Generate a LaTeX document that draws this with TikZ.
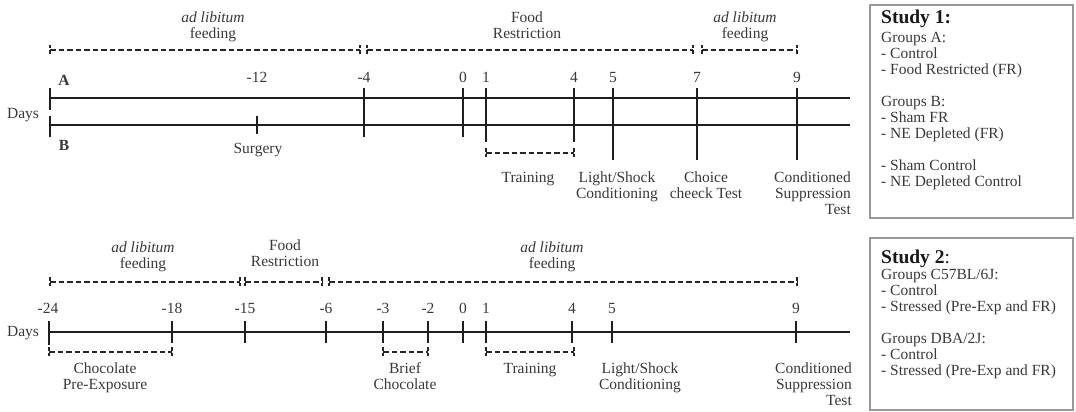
\documentclass[tikz,border=0pt]{standalone}
\usepackage{fontspec}
\setmainfont{Liberation Serif}
\newcommand\labfont{\fontsize{15.5}{16}\selectfont}
\newcommand\headfont{\fontsize{19.5}{20}\selectfont\bfseries}
% dashed feeding/period span with broken end marks: \feedspan{x1}{x2}{y}
\newcommand\feedspan[3]{%
  \draw[span] (#1,#3) -- (#2,#3);
  \draw[spanend] (#1,#3-5) -- (#1,#3+5);
  \draw[spanend] (#2,#3-5) -- (#2,#3+5);}
\begin{document}
\begin{tikzpicture}[x=1pt,y=-1pt,
  axis/.style={line width=2.4pt, draw=black!88},
  tickmark/.style={line width=2.6pt, draw=black!88},
  span/.style={line width=1.8pt, draw=black!85, dash pattern=on 5.5pt off 3pt},
  spanend/.style={line width=1.8pt, draw=black!85, dash pattern=on 3.5pt off 2pt},
  lab/.style={font=\labfont, text=black!78, inner sep=0pt, anchor=base},
  labr/.style={lab, anchor=base east, align=right},
  labc/.style={lab, align=center},
  panel/.style={draw=black!40, line width=1.2pt},
  panelhead/.style={font=\headfont, text=black!90, inner sep=0pt, anchor=base west},
  panelbody/.style={font=\labfont, text=black!78, inner sep=0pt, anchor=base west, align=left}]
\useasboundingbox (0,0) rectangle (1076,412);
% multi-line nodes are placed by the baseline of their last line

% ---------------- Study 1 ----------------
\node[labc] (s1feedA) at (213,39) {\textit{ad libitum}\\feeding};
\node[labc] (s1restr) at (527,39) {Food\\Restriction};
\node[labc] (s1feedB) at (745,39) {\textit{ad libitum}\\feeding};
\feedspan{50}{360}{50}
\feedspan{367}{693}{50}
\feedspan{702}{797}{50}

\node[lab, font=\labfont\bfseries] (grpA) at (64,85) {A};
\node[lab, font=\labfont\bfseries] (grpB) at (64,150) {B};
\node[lab] (days1) at (23,118) {Days};

\draw[axis] (50,98) -- (850,98);
\draw[axis] (50,125) -- (850,125);
\draw[tickmark] (50,88) -- (50,110);
\draw[tickmark] (50,116) -- (50,137);
\draw[tickmark] (257,116) -- (257,134);
\foreach \x/\len in {364/137, 463/137, 486/142, 574/142, 613/160, 697/160, 797/160}
  \draw[tickmark] (\x,88) -- (\x,\len);
\foreach \x/\d in {257/-12, 364/-4, 463/0, 486/1, 574/4, 613/5, 697/7, 797/9}
  \node[lab] (s1day\d) at (\x,82) {\d};

\node[lab] (surgery) at (258,153) {Surgery};
\feedspan{486}{574}{153}
\node[lab] (s1train) at (528,182) {Training};
\node[labc] (s1shock) at (617,198) {Light/Shock\\Conditioning};
\node[labc] (choice) at (706,198) {Choice\\cheeck Test};
\node[labr] (s1supp) at (851,214) {Conditioned\\Suppression\\Test};

% ---------------- Study 2 ----------------
\node[labc] (s2feedA) at (143,268) {\textit{ad libitum}\\feeding};
\node[labc] (s2restr) at (285,266) {Food\\Restriction};
\node[labc] (s2feedB) at (552,268) {\textit{ad libitum}\\feeding};
\feedspan{50}{240}{282}
\feedspan{245}{322}{282}
\feedspan{329}{797}{282}

\foreach \x/\d in {48/-24, 172/-18, 245/-15, 326/-6, 383/-3, 428/-2, 463/0, 486/1, 572/4, 612/5, 796/9}
  \node[lab] (s2day\d) at (\x,313) {\d};
\node[lab] (days2) at (23,336) {Days};
\draw[axis] (49,332) -- (850,332);
\draw[tickmark] (49,321) -- (49,345);
\foreach \x in {172, 245, 326, 383, 428, 463, 486, 572, 612, 796}
  \draw[tickmark] (\x,321) -- (\x,343);

\feedspan{49}{172}{352}
\feedspan{383}{428}{352}
\feedspan{486}{574}{352}
\node[labc] (preexp) at (105,389) {Chocolate\\Pre-Exposure};
\node[labc] (brief) at (405,389) {Brief\\Chocolate};
\node[lab] (s2train) at (530,373) {Training};
\node[labc] (s2shock) at (640,389) {Light/Shock\\Conditioning};
\node[labr] (s2supp) at (852,405) {Conditioned\\Suppression\\Test};

% ---------------- group panels ----------------
\draw[panel] (870,5) rectangle (1073,218);
\node[panelhead] (study1) at (881,24) {Study 1:};
\node[panelbody] (groups1) at (881,186) {Groups A:\\- Control\\- Food Restricted (FR)\\[16pt]
  Groups B:\\- Sham FR\\- NE Depleted (FR)\\[16pt]- Sham Control\\- NE Depleted Control};

\draw[panel] (870,238) rectangle (1073,410);
\node[panelhead] (study2) at (881,263) {Study 2\mdseries:};
\node[panelbody] (groups2) at (881,375) {Groups C57BL/6J:\\- Control\\- Stressed (Pre-Exp and FR)\\[16pt]
  Groups DBA/2J:\\- Control\\- Stressed (Pre-Exp and FR)};
\end{tikzpicture}
\end{document}
